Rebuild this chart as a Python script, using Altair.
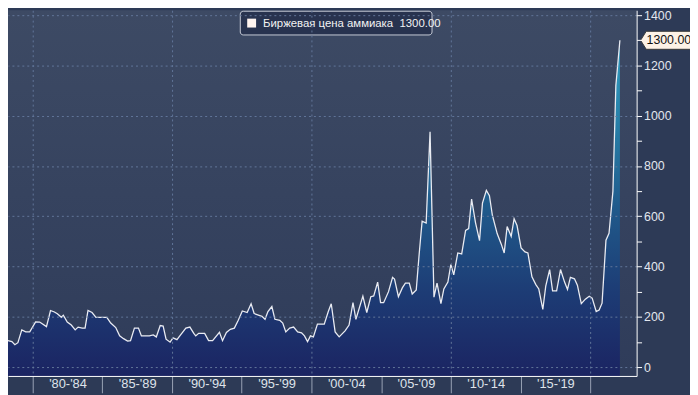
import json
import altair as alt
import pandas as pd

# ---------------- data ----------------
YEARS = [
    1977.66, 1977.94, 1978.23, 1978.51, 1978.72, 1978.94, 1979.22, 1979.50, 1979.79,
    1980.21, 1980.50, 1980.99, 1981.28, 1981.56, 1981.77, 1982.06, 1982.20, 1982.48,
    1982.77, 1983.05, 1983.26, 1983.55, 1983.76, 1983.97, 1984.26, 1984.54, 1985.32,
    1985.60, 1985.96, 1986.24, 1986.52, 1986.81, 1987.02, 1987.30, 1987.59, 1987.80,
    1988.37, 1988.65, 1988.87, 1989.15, 1989.36, 1989.57, 1989.86, 1990.07, 1990.35,
    1990.64, 1990.99, 1991.28, 1991.56, 1991.70, 1991.91, 1992.34, 1992.62, 1992.91,
    1993.40, 1993.62, 1993.90, 1994.18, 1994.47, 1994.75, 1995.04, 1995.39, 1995.67,
    1995.89, 1996.24, 1996.45, 1996.67, 1996.88, 1997.16, 1997.38, 1997.73, 1997.94,
    1998.16, 1998.44, 1998.72, 1999.01, 1999.29, 1999.50, 1999.72, 1999.93, 2000.14,
    2000.43, 2000.92, 2001.21, 2001.42, 2001.70, 2001.99, 2002.41, 2002.70, 2002.98,
    2003.19, 2003.69, 2003.97, 2004.26, 2004.47, 2004.75, 2004.96, 2005.18, 2005.53,
    2005.82, 2005.96, 2006.24, 2006.52, 2006.74, 2007.02, 2007.23, 2007.52, 2007.73,
    2007.94, 2008.23, 2008.51, 2008.79, 2009.01, 2009.29, 2009.50, 2009.79, 2010.00,
    2010.21, 2010.50, 2010.78, 2011.06, 2011.28, 2011.49, 2011.77, 2012.06, 2012.27,
    2012.55, 2012.77, 2012.98, 2013.33, 2013.62, 2013.83, 2014.04, 2014.33, 2014.54,
    2014.75, 2015.04, 2015.32, 2015.53, 2015.82, 2016.10, 2016.31, 2016.60, 2016.81,
    2017.09, 2017.30, 2017.59, 2017.87, 2018.16, 2018.37, 2018.58, 2018.87, 2019.08,
    2019.36, 2019.65, 2019.93, 2020.14, 2020.43, 2020.64, 2020.85, 2021.13, 2021.35,
    2021.63, 2021.84, 2022.13,
]
PRICES = [
    118, 101, 105, 101, 89, 97, 148, 140, 140,
    180, 179, 161, 225, 219, 212, 198, 206, 179,
    167, 148, 159, 155, 155, 225, 217, 198, 198,
    175, 157, 124, 113, 103, 105, 155, 155, 124,
    124, 128, 120, 165, 163, 111, 99, 116, 109,
    130, 155, 159, 134, 124, 134, 134, 105, 105,
    138, 105, 138, 150, 155, 186, 223, 217, 252,
    213, 206, 202, 190, 221, 241, 190, 186, 175,
    140, 155, 159, 140, 136, 124, 101, 124, 120,
    171, 171, 221, 252, 140, 120, 144, 167, 256,
    190, 282, 217, 280, 283, 338, 256, 256, 300,
    357, 350, 280, 315, 334, 334, 291, 307, 450,
    580, 573, 936, 278, 334, 252, 311, 338, 408,
    367, 454, 450, 544, 551, 668, 575, 503, 652,
    703, 682, 604, 530, 489, 454, 559, 520, 590,
    563, 474, 458, 454, 359, 328, 311, 229, 322,
    388, 303, 303, 388, 338, 309, 357, 351, 326,
    252, 270, 282, 274, 221, 227, 254, 505, 532,
    700, 1120, 1300,
]
SERIES_NAME = "Биржевая цена аммиака"
LAST_PRICE = 1300.00

Y_TICKS = list(range(0, 1500, 100))
PERIOD_BOUNDS = [1980, 1985, 1990, 1995, 2000, 2005, 2010, 2015, 2020]
PERIOD_MIDS = [1982.5, 1987.5, 1992.5, 1997.5, 2002.5, 2007.5, 2012.5, 2017.5]
PERIOD_LABELS = ["'80-'84", "'85-'89", "'90-'94", "'95-'99",
                 "'00-'04", "'05-'09", "'10-'14", "'15-'19"]

# ---------------- layout ----------------
W, H = 636, 370
X_DOMAIN = [1978.23, 2023.33]
Y_DOMAIN = [-35.4, 1419.6]
FONT = "Liberation Sans"
GRID = "#62769a"

df = pd.DataFrame({"year": YEARS, "price": PRICES})
one = pd.DataFrame({"k": [0]})

mids_js = json.dumps(PERIOD_MIDS)
labels_js = json.dumps(PERIOD_LABELS)
x_label_expr = (f"indexof({mids_js}, datum.value) >= 0 ? "
                f"{labels_js}[indexof({mids_js}, datum.value)] : ''")

x_axis = alt.Axis(
    title=None,
    values=sorted(PERIOD_BOUNDS + PERIOD_MIDS),
    labelExpr=x_label_expr,
    labelOverlap=False,
    labelFlush=False,
    labelColor="#dfe3ea",
    labelFontSize=13,
    labelFont=FONT,
    labelBaseline="top",
    labelPadding=-15,
    tickSize=17,
    tickColor="#9aa3b5",
    tickOpacity={"condition": {"test": "datum.value % 5 === 0", "value": 1}, "value": 0},
    domainColor="#ffffff",
    domainWidth=1,
    grid=True,
    gridColor=GRID,
    gridDash=[2, 3],
    gridOpacity={"condition": {"test": "datum.value % 10 === 0", "value": 1}, "value": 0},
    zindex=1,
)
y_axis = alt.Axis(
    title=None,
    orient="right",
    values=Y_TICKS,
    format="d",
    labelExpr="datum.value % 200 === 0 ? datum.label : ''",
    labelOverlap=False,
    labelFlush=False,
    labelColor="#e3e7ee",
    labelFontSize=12.5,
    labelFont=FONT,
    labelPadding=2,
    tickSize=5,
    tickColor="#ffffff",
    domainColor="#ffffff",
    domainWidth=1,
    grid=True,
    gridColor=GRID,
    gridDash=[2, 3],
    gridOpacity={"condition": {"test": "datum.value % 200 === 0", "value": 1}, "value": 0},
    zindex=1,
)

x_enc = alt.X("year:Q", scale=alt.Scale(domain=X_DOMAIN, nice=False, zero=False), axis=x_axis)
y_enc = alt.Y("price:Q", scale=alt.Scale(domain=Y_DOMAIN, nice=False, zero=False), axis=y_axis)

bg = alt.Chart(one).mark_rect(
    fill=alt.Gradient(gradient="linear", x1=0, x2=0, y1=0, y2=1,
                      stops=[alt.GradientStop(color="#3d4a64", offset=0),
                             alt.GradientStop(color="#2f3c5a", offset=1)])
).encode(x=alt.value(0), x2=alt.value(W), y=alt.value(0), y2=alt.value(H))

area = alt.Chart(df).mark_area(
    clip=True,
    fill=alt.Gradient(gradient="linear", x1=0, x2=0, y1=0, y2=1,
                      stops=[alt.GradientStop(color="#2fa0c4", offset=0),
                             alt.GradientStop(color="#277fa8", offset=0.25),
                             alt.GradientStop(color="#205a8b", offset=0.5),
                             alt.GradientStop(color="#1d3c75", offset=0.75),
                             alt.GradientStop(color="#1b2462", offset=1)]),
).encode(x=x_enc, y=y_enc, y2=alt.Y2(datum=Y_DOMAIN[0]))

line = alt.Chart(df).mark_line(clip=True, color="#e9ebf2", strokeWidth=1.3).encode(x=x_enc, y=y_enc)

legend_box = alt.Chart(one).mark_rect(
    fill="#28334f", stroke="#c5cad6", strokeWidth=1, cornerRadius=3
).encode(x=alt.value(235), x2=alt.value(429), y=alt.value(1), y2=alt.value(25))

legend_sq = alt.Chart(one).mark_square(
    size=81, filled=True, color="#fff4ef", opacity=1
).encode(x=alt.value(246.5), y=alt.value(13))

legend_txt = alt.Chart(one).mark_text(
    align="left", baseline="middle", color="#f2f2f2", fontSize=11.5, font=FONT
).encode(x=alt.value(258), y=alt.value(13.5),
         text=alt.value(f"{SERIES_NAME}\u00a0\u00a0{LAST_PRICE:.2f}"))

last = df.tail(1)
tag = alt.Chart(last).mark_point(
    shape="M-1,0 L-0.78,-0.35 L1,-0.35 L1,0.35 L-0.78,0.35 Z",
    size=2704, filled=True, fill="#fdf2e6", stroke="#3a3a3a", strokeWidth=1, opacity=1,
).encode(x=alt.value(666), y=y_enc)

tag_txt = alt.Chart(last).mark_text(
    align="left", baseline="middle", color="#111111", fontSize=12.5, font=FONT
).encode(x=alt.value(646), y=y_enc, text=alt.Text("price:Q", format=".2f"))

chart = alt.layer(
    bg, area, line, legend_box, legend_sq, legend_txt, tag, tag_txt
).properties(
    width=W, height=H,
    autosize=alt.AutoSizeParams(type="none"),
    padding={"left": 0, "top": 0, "right": 54, "bottom": 17},
    background="#2d3a56",
).configure(font=FONT).configure_view(stroke=None)

chart.save("out.html", embed_options={"renderer": "svg", "actions": False})
